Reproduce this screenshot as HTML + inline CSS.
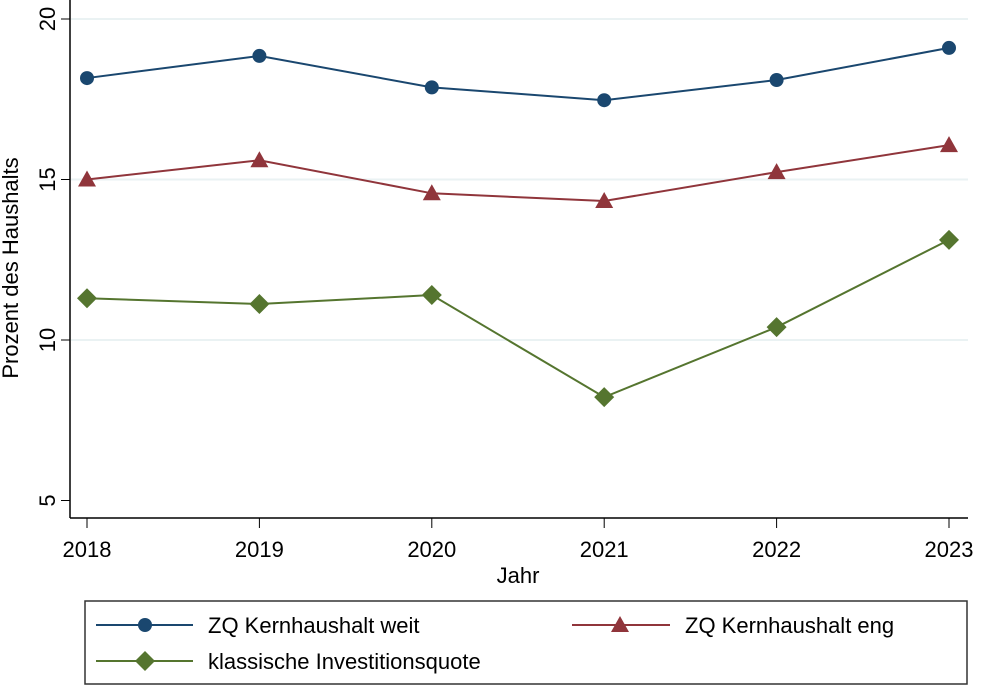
<!DOCTYPE html>
<html><head><meta charset="utf-8"><style>
body{margin:0;background:#fff;font-family:"Liberation Sans",Arial,sans-serif}
svg text{font-family:"Liberation Sans",Arial,sans-serif;fill:#000}
</style></head><body>
<svg id="chart" width="981" height="686" viewBox="0 0 981 686" xmlns="http://www.w3.org/2000/svg">
<rect x="0" y="0" width="981" height="686" fill="#fff"/>
<g id="grid"></g>
<g id="axes"></g>
<g id="series"></g>
<text x="18" y="268" font-size="22" text-anchor="middle" transform="rotate(-90 18 268)">Prozent des Haushalts</text>
<text x="518" y="583" font-size="22" text-anchor="middle">Jahr</text>
<g>
<rect x="85" y="601" width="882" height="83" fill="#fff" stroke="#333" stroke-width="1.5"/>
<g>
<line x1="96" y1="625" x2="193" y2="625" stroke="#1a476f" stroke-width="2"/><circle cx="145" cy="625" r="7" fill="#1a476f"/>
<text x="208" y="633" font-size="22">ZQ Kernhaushalt weit</text></g>
<g>
<line x1="572" y1="625" x2="670" y2="625" stroke="#90353b" stroke-width="2"/><polygon points="620,616 629,632 611,632" fill="#90353b"/>
<text x="685" y="633" font-size="22">ZQ Kernhaushalt eng</text></g>
<g>
<line x1="96" y1="661" x2="193" y2="661" stroke="#55752f" stroke-width="2"/><polygon points="145,651 155,661 145,671 135,661" fill="#55752f"/>
<text x="208" y="669" font-size="22">klassische Investitionsquote</text></g>
</g>
</svg>
<script>
const years=[2018,2019,2020,2021,2022,2023];
const weit=[18.16,18.85,17.87,17.47,18.1,19.1];
const eng=[15.0,15.6,14.57,14.33,15.23,16.07];
const invest=[11.3,11.12,11.4,8.22,10.4,13.12];
const yTicks=[5,10,15,20];
const NS="http://www.w3.org/2000/svg";
const xS=v=>87+(v-2018)*172.4;
const yS=v=>19+(20-v)*32.1;
function mk(t,a,p){const e=document.createElementNS(NS,t);for(const k in a)e.setAttribute(k,a[k]);p.appendChild(e);return e;}
const grid=document.getElementById('grid'),axes=document.getElementById('axes'),ser=document.getElementById('series');
yTicks.forEach(t=>{
 if(t>5){const g=mk('line',{x1:71,x2:968,y1:yS(t),y2:yS(t),stroke:'#eaf2f3','stroke-width':2},grid);
 
 }
 mk('line',{x1:61,x2:70,y1:yS(t),y2:yS(t),stroke:'#000','stroke-width':1},axes);
 const lb=mk('text',{x:0,y:0,'font-size':22,'text-anchor':'middle',transform:`translate(55 ${yS(t)}) rotate(-90)`},axes);
 lb.textContent=t;
 
 
});
mk('line',{x1:70,x2:70,y1:0,y2:518,stroke:'#000','stroke-width':1.5},axes);
mk('line',{x1:70,x2:968,y1:518,y2:518,stroke:'#000','stroke-width':1.5},axes);
years.forEach(y=>{
 mk('line',{x1:xS(y),x2:xS(y),y1:518,y2:528,stroke:'#000','stroke-width':1},axes);
 const lb=mk('text',{x:xS(y),y:557,'font-size':22,'text-anchor':'middle'},axes);
 lb.textContent=y;
 
 
});
function series(vals,color,shape,name){
 const g=mk('g',{},ser);
 
 
 mk('polyline',{points:vals.map((v,i)=>xS(years[i])+','+yS(v)).join(' '),fill:'none',stroke:color,'stroke-width':2},g);
 vals.forEach((v,i)=>{
  const x=xS(years[i]),y=yS(v);let m;
  if(shape==='c')m=mk('circle',{cx:x,cy:y,r:7,fill:color},g);
  else if(shape==='t')m=mk('polygon',{points:`${x},${y-9} ${x+9},${y+7} ${x-9},${y+7}`,fill:color},g);
  else m=mk('polygon',{points:`${x},${y-10} ${x+10},${y} ${x},${y+10} ${x-10},${y}`,fill:color},g);
  
  
 });
}
series(weit,'#1a476f','c','weit');
series(eng,'#90353b','t','eng');
series(invest,'#55752f','d','investitionsquote');
</script>
</body></html>
